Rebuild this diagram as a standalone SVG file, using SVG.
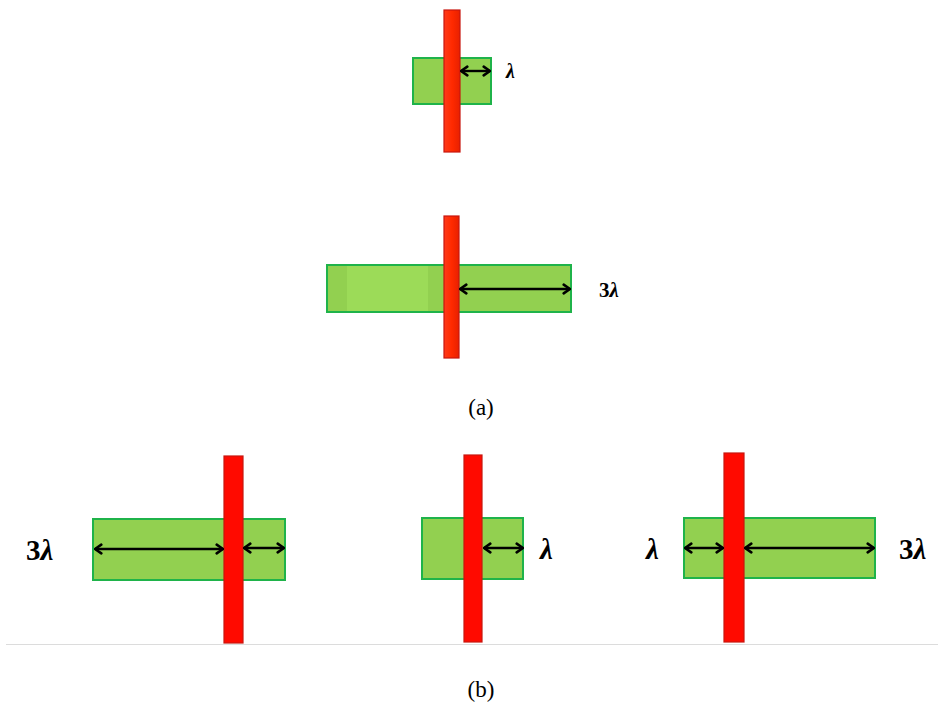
<svg xmlns="http://www.w3.org/2000/svg" width="938" height="711" viewBox="0 0 938 711">
  <style>
    .slab { fill: #92d050; stroke: #1fb34a; stroke-width: 2; }
    .bar { fill: #ff0a00; stroke: #c8160e; stroke-width: 1.2; }
    .dim { stroke: #000; stroke-width: 2.4; fill: none; marker-start: url(#head); marker-end: url(#head); }
    .lab { font-family: "Liberation Serif", "DejaVu Serif", serif; font-weight: bold; fill: #000; }
    .big { font-family: "Liberation Serif", "DejaVu Serif", serif; font-weight: 600; fill: #000; }
    .it { font-style: italic; }
    .cap { font-family: "Liberation Serif", serif; font-size: 23px; fill: #000; text-anchor: middle; }
  </style>
  <defs>
    <marker id="head" viewBox="0 0 10 10" refX="9" refY="5" markerWidth="4.8" markerHeight="4.8" orient="auto-start-reverse" markerUnits="strokeWidth">
      <path d="M3.5,1.2 L9,5 L3.5,8.8" fill="none" stroke="#000" stroke-width="2.2" stroke-linecap="round" stroke-linejoin="round"/>
    </marker>
    <linearGradient id="topRed" x1="0" y1="0" x2="1" y2="0">
      <stop offset="0" stop-color="#ff3a1a"/>
      <stop offset="0.5" stop-color="#ff2a00"/>
      <stop offset="1" stop-color="#e82000"/>
    </linearGradient>
  </defs>

  <!-- (a) upper: short slab, gap λ -->
  <g id="a1">
    <rect class="slab" x="413" y="58" width="78" height="46"/>
    <rect class="bar" x="444" y="10" width="16" height="142" style="fill:url(#topRed)"/>
    <text class="lab it" x="506" y="78" font-size="20">λ</text>
  </g>

  <!-- (a) lower: long slab, gap 3λ -->
  <g id="a2">
    <rect class="slab" x="327" y="265" width="244" height="47"/>
    <rect x="347" y="266" width="81" height="45" fill="#9cdb58"/>
    <rect class="bar" x="444" y="216" width="15" height="142" style="fill:url(#topRed)"/>
    <text class="lab" x="599" y="297" font-size="21">3<tspan class="it">λ</tspan></text>
  </g>

  <text class="cap" x="481" y="415">(a)</text>

  <!-- (b) left -->
  <g id="b1">
    <rect class="slab" x="93" y="519" width="192" height="61"/>
    <rect class="bar" x="224" y="456" width="19" height="187"/>
    <text class="big" x="26" y="560" font-size="29">3<tspan class="it">λ</tspan></text>
  </g>

  <!-- (b) middle -->
  <g id="b2">
    <rect class="slab" x="422" y="518" width="101" height="61"/>
    <rect class="bar" x="464" y="455" width="18" height="187"/>
    <text class="big it" x="540" y="559" font-size="29">λ</text>
  </g>

  <!-- (b) right -->
  <g id="b3">
    <rect class="slab" x="684" y="518" width="191" height="60"/>
    <rect class="bar" x="724" y="453" width="20" height="189"/>
    <text class="big it" x="646" y="559" font-size="29">λ</text>
    <text class="big" x="899" y="559" font-size="29">3<tspan class="it">λ</tspan></text>
  </g>

  <!-- dimension arrows -->
  <g id="connectors">
    <line class="dim" x1="461" y1="71" x2="490" y2="71"/>
    <line class="dim" x1="460" y1="289" x2="570" y2="289"/>
    <line class="dim" x1="95" y1="549" x2="223" y2="549"/>
    <line class="dim" x1="244" y1="548" x2="284" y2="548"/>
    <line class="dim" x1="484" y1="548" x2="523" y2="548"/>
    <line class="dim" x1="685" y1="548" x2="723" y2="548"/>
    <line class="dim" x1="745" y1="548" x2="874" y2="548"/>
  </g>

  <line x1="6" y1="644.5" x2="938" y2="644.5" stroke="#dcdcdc" stroke-width="1"/>

  <text class="cap" x="481" y="697">(b)</text>
</svg>
